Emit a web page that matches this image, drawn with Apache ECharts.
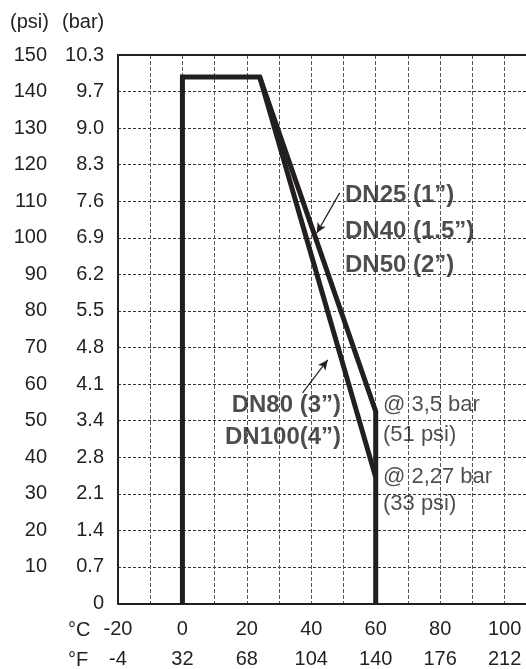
<!DOCTYPE html>
<html><head><meta charset="utf-8">
<script src="https://cdn.jsdelivr.net/npm/echarts@6/dist/echarts.min.js"></script>
<style>html,body{margin:0;padding:0;background:#fff}#c{width:526px;height:669px}</style>
</head><body><div id="c"></div>
<script>
// ---- data ----
const psiLabels = ['', '10', '20', '30', '40', '50', '60', '70', '80', '90', '100', '110', '120', '130', '140', '150'];
const barLabels = ['0', '0.7', '1.4', '2.1', '2.8', '3.4', '4.1', '4.8', '5.5', '6.2', '6.9', '7.6', '8.3', '9.0', '9.7', '10.3'];
const celsiusLabels = ['-20', '0', '20', '40', '60', '80', '100'];
const fahrenheitLabels = ['-4', '32', '68', '104', '140', '176', '212'];
const smallTemp = [0, 0, 24, 60, 60];     // DN25 / DN40 / DN50 (°C)
const smallPsi  = [0, 144, 144, 52.5, 0];  // psi
const largeTemp = [24, 60];                // DN80 / DN100 (°C)
const largePsi  = [144, 34.5];             // psi

// annotations (data coordinates)
const notes = [
  { text: 'DN25 (1”)',   t: 50.3, p: 111.7, side: 'right', bold: true },
  { text: 'DN40 (1.5”)', t: 50.3, p: 101.9, side: 'right', bold: true },
  { text: 'DN50 (2”)',   t: 50.3, p: 92.6,  side: 'right', bold: true },
  { text: 'DN80 (3”)',   t: 49.4, p: 54.3,  side: 'left',  bold: true },
  { text: 'DN100(4”)',   t: 49.4, p: 45.5,  side: 'left',  bold: true },
  { text: '@ 3,5 bar',   t: 62.1, p: 54.3,  side: 'right', bold: false },
  { text: '(51 psi)',    t: 62.1, p: 46.1,  side: 'right', bold: false },
  { text: '@ 2,27 bar',  t: 62.1, p: 34.7,  side: 'right', bold: false },
  { text: '(33 psi)',    t: 62.1, p: 27.3,  side: 'right', bold: false }
];
const arrows = [
  [[48.8, 112.3], [41.7, 101.3]],
  [[37.3, 57.6], [45.1, 66.6]]
];

const ink = '#231f20';
const font = '"Liberation Sans", Arial, sans-serif';

const chart = echarts.init(document.getElementById('c'), null, { renderer: 'canvas' });

function zip(a, b) { return a.map((v, i) => [v, b[i]]); }

const option = {
  animation: false,
  backgroundColor: '#fff',
  grid: { left: 118, top: 55, height: 548.5, width: 451, containLabel: false, outerBoundsMode: 'none' },
  xAxis: [
    {
      type: 'value', min: -20, max: 120, interval: 10, position: 'bottom',
      axisLine: { show: true, onZero: false, lineStyle: { color: ink, width: 2 } },
      axisTick: { show: false },
      splitLine: { show: true, lineStyle: { color: '#555', width: 1, type: 'dashed', dashOffset: 0 } },
      axisLabel: {
        margin: 11, fontFamily: font, fontSize: 20, color: ink, lineHeight: 30,
        formatter: v => {
          const i = (v + 20) / 20;
          if (Number.isInteger(i) && i < celsiusLabels.length) return celsiusLabels[i] + '\n' + fahrenheitLabels[i];
          return '';
        }
      }
    },
    {
      type: 'value', min: -20, max: 120, interval: 10, position: 'top',
      axisLine: { show: true, onZero: false, lineStyle: { color: ink, width: 2 } },
      axisTick: { show: false }, axisLabel: { show: false }, splitLine: { show: false }
    }
  ],
  yAxis: [
    {
      type: 'value', min: 0, max: 150, interval: 10, position: 'left',
      axisLine: { show: true, onZero: false, lineStyle: { color: ink, width: 2 } },
      axisTick: { show: false },
      splitLine: { show: true, lineStyle: { color: '#333', width: 1, type: [3, 2] } },
      axisLabel: {
        margin: 71, fontFamily: font, fontSize: 20, color: ink,
        formatter: v => psiLabels[Math.round(v / 10)] || ''
      }
    },
    {
      type: 'value', min: 0, max: 150, interval: 10, position: 'left',
      axisLine: { show: false, onZero: false }, axisTick: { show: false }, splitLine: { show: false },
      axisLabel: {
        margin: 14, fontFamily: font, fontSize: 20, color: ink,
        formatter: v => barLabels[Math.round(v / 10)] || ''
      }
    }
  ],
  graphic: [
    { type: 'text', left: 10, top: 12, style: { text: '(psi)', font: '20px ' + font, fill: ink } },
    { type: 'text', left: 62, top: 12, style: { text: '(bar)', font: '20px ' + font, fill: ink } },
    { type: 'text', left: 68, top: 620, style: { text: '°C', font: '20px ' + font, fill: ink } },
    { type: 'text', left: 68, top: 650, style: { text: '°F', font: '20px ' + font, fill: ink } }
  ],
  series: [
    {
      type: 'line', name: 'DN25-DN50', data: zip(smallTemp, smallPsi),
      symbol: 'none', lineStyle: { color: ink, width: 5, join: 'miter' }, z: 5
    },
    {
      type: 'line', name: 'DN80-DN100', data: zip(largeTemp, largePsi),
      symbol: 'none', lineStyle: { color: ink, width: 5 }, z: 5,
      markLine: {
        silent: true, symbol: ['none', 'arrow'], symbolSize: [7, 10],
        lineStyle: { color: ink, width: 1.2, type: 'solid' },
        label: { show: false },
        data: arrows.map(a => [{ coord: a[0] }, { coord: a[1] }])
      }
    },
    {
      type: 'scatter', symbolSize: 1, itemStyle: { color: 'rgba(0,0,0,0)' }, z: 6, silent: true,
      data: notes.map(n => ({
        value: [n.t, n.p],
        label: {
          show: true, position: n.side, distance: 0, formatter: n.text,
          fontFamily: font, fontSize: n.bold ? 24 : 22, fontWeight: n.bold ? 'bold' : 'normal', color: ink
        }
      }))
    }
  ]
};
chart.setOption(option);
</script>
</body></html>
